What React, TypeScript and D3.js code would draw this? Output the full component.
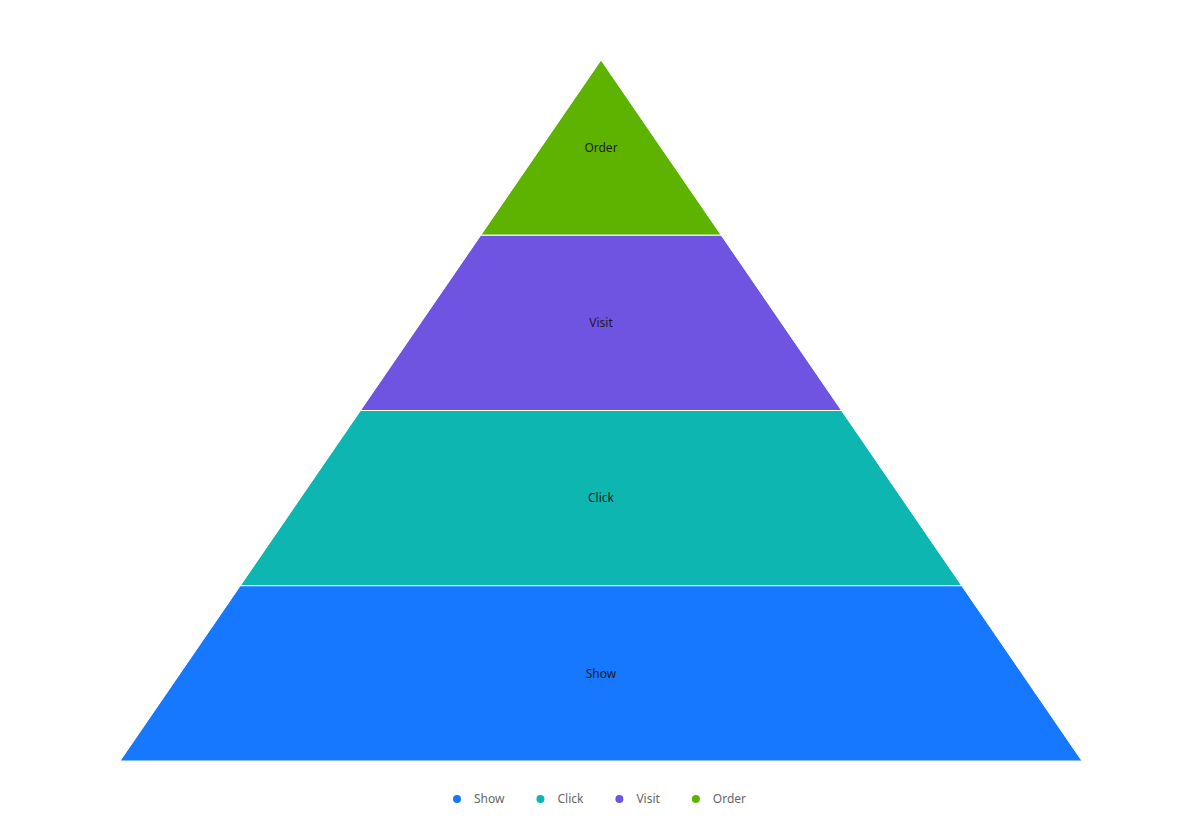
import * as d3 from "d3";

const categories = ["Show", "Click", "Visit", "Order"];
const values = [100, 80, 60, 40];
const colors = ["#1677ff", "#0db6b1", "#6f53e1", "#5db300"];

const W = 1203, H = 821;
const apexX = 601, top = 60, bottom = 761, halfBase = 481;
const FONT = "12px 'Noto Sans', sans-serif";

function textWidth(s: string) {
  const c = document.createElement("canvas").getContext("2d")!;
  c.font = FONT;
  return c.measureText(s).width;
}

export default function App() {
  // levels from top (Order) to bottom (Show)
  const order = categories.map((c, i) => ({ c, v: values[i], color: colors[i] })).reverse();
  const y = d3.scaleBand<string>().domain(order.map(d => d.c)).range([top, bottom]).padding(0);
  const half = d3.scaleLinear().domain([top, bottom]).range([0, halfBase]);

  let lx = 457;
  const legend = categories.map((c, i) => {
    const item = { c, x: lx, color: colors[i] };
    lx += 17 + textWidth(c) + 36;
    return item;
  });

  return (
    <svg width={W} height={H} style={{ position: "absolute", left: 0, top: 0, background: "#fff" }}>
      {order.map(d => {
        const y0 = y(d.c)!, y1 = y0 + y.bandwidth();
        const pts = [
          [apexX - half(y0), y0], [apexX + half(y0), y0],
          [apexX + half(y1), y1], [apexX - half(y1), y1],
        ];
        return (
          <g key={d.c}>
            <path d={d3.line()(pts as [number, number][])! + "Z"} fill={d.color} stroke="#fff" strokeWidth={1} />
            <text x={apexX} y={(y0 + y1) / 2} dy="0.35em" textAnchor="middle"
              fontSize={12} fontFamily="'Noto Sans', sans-serif" fill="#1d1d1d">{d.c}</text>
          </g>
        );
      })}
      {legend.map(l => (
        <g key={l.c}>
          <circle cx={l.x} cy={799} r={4} fill={l.color} />
          <text x={l.x + 17} y={799} dy="0.35em" fontSize={12}
            fontFamily="'Noto Sans', sans-serif" fill="#666">{l.c}</text>
        </g>
      ))}
    </svg>
  );
}
